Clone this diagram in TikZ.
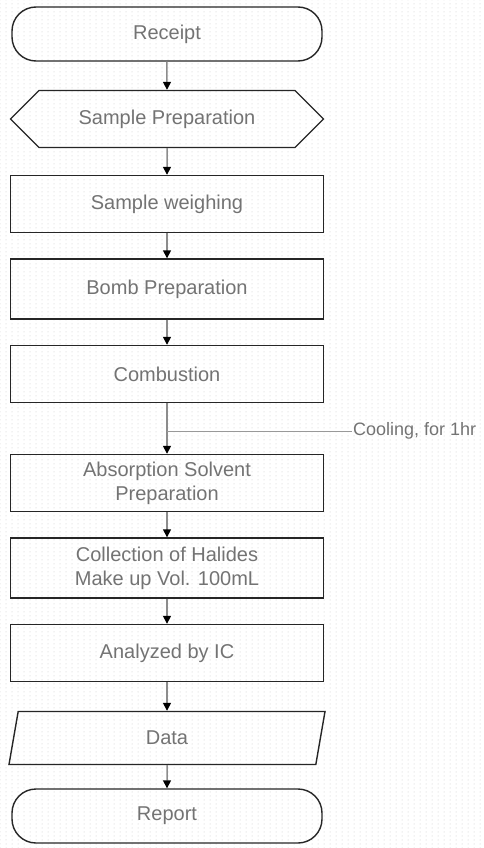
\documentclass[tikz,border=0pt]{standalone}
\usepackage{fontspec}
\setmainfont{Liberation Sans}
\usetikzlibrary{arrows.meta,shapes.geometric,shapes.symbols,patterns,positioning}
\tikzset{arrows={-{Triangle[black,width=8pt,length=8pt]}}}
\pgfdeclarepatternformonly{halftone}{\pgfqpoint{-1pt}{-1pt}}{\pgfqpoint{1pt}{1pt}}{\pgfqpoint{6pt}{4pt}}{%
  \pgfpathcircle{\pgfqpoint{0pt}{0pt}}{.5pt}\pgfusepath{fill}}

\begin{document}
\begin{tikzpicture}[x=1pt, y=1pt, node distance = 85pt,
    font=\fontsize{20}{24}\selectfont,
    box/.style={draw=black!85, line width=1.4pt, text=black!55, align=center,
      minimum width=313pt, minimum height=57pt},
    term/.style={box, rounded corners=24pt, minimum width=310pt, minimum height=54pt},
    prep/.style={box, signal, signal to=west and east, signal pointer angle=90},
    io/.style={box, trapezium, trapezium left angle=66, trapezium right angle=114,
      trapezium stretches body, minimum width=316pt, minimum height=53pt},
    every edge/.style={draw=black!45, line width=1.5pt}]
    \useasboundingbox (0,0) rectangle (484,-848);
    \fill[pattern=halftone, pattern color=black!22] (0,0) rectangle (484,-848);

    \node[term] (Rec) at (167,-34) {Receipt};
    \node[prep] (Prep) [below of = Rec] {Sample Preparation};
    \node[box] (Weigh) [below of = Prep] {Sample weighing};
    \node[box] (Bomb) [below of = Weigh, minimum height=60pt] {Bomb Preparation};
    \node[box] (Comb) [below of = Bomb] {Combustion};
    \node[box] (Abs) [below of = Comb, node distance = 109pt] {Absorption Solvent\\Preparation};
    \node[box] (Coll) [below of = Abs, minimum height=60pt] {Collection of Halides\\Make up Vol. 100mL};
    \node[box] (IC) [below of = Coll] {Analyzed by IC};
    \node[io] (Data) [below of = IC] {Data};
    \node[term] (Rep) [below of = Data, node distance = 78pt] {Report};
    \node[text=black!55, anchor=west, inner sep=1pt, font=\fontsize{18}{22}\selectfont]
      (Cool) at (352,-431) {Cooling, for 1hr};

    \path (Rec) edge (Prep)
          (Prep) edge (Weigh)
          (Weigh) edge (Bomb)
          (Bomb) edge (Comb)
          (Comb) edge (Abs)
          (Abs) edge (Coll)
          (Coll) edge (IC)
          (IC) edge (Data)
          (Data) edge (Rep);

    % cooling step between combustion and absorption
    \coordinate (Tap) at (Comb.south |- Cool.west);
    \draw[-, draw=black!40, line width=0.8pt] (Tap) -- (Cool.west);
  \end{tikzpicture}
\end{document}
